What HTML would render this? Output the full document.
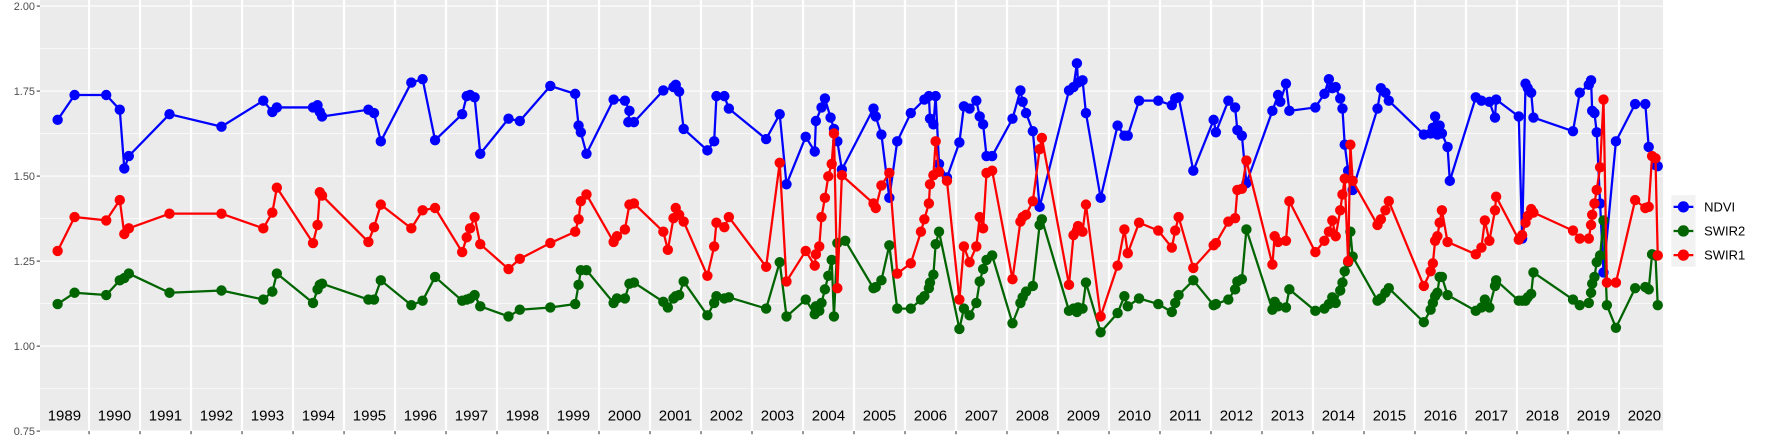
<!DOCTYPE html>
<html><head><meta charset="utf-8"><style>
html,body{margin:0;padding:0;background:#fff}
svg{display:block}
text{font-family:"Liberation Sans",sans-serif}
</style></head><body>
<svg id="s" width="1773" height="442" viewBox="0 0 1569 391" xmlns="http://www.w3.org/2000/svg">
<rect x="35.4" y="0" width="1436.3" height="381.4" fill="#ebebeb"/>
<g id="grid"></g>
<g id="data"></g>
<g id="axes" fill="#4d4d4d" font-size="9.7"></g>
<rect x="1479" y="172.6" width="21.5" height="63.4" fill="#f2f2f2"/>
<g stroke-width="2">
<line x1="1481" y1="183" x2="1498.5" y2="183" stroke="#0000ff"/><circle cx="1489.7" cy="183" r="5" fill="#0000ff"/>
<line x1="1481" y1="204.3" x2="1498.5" y2="204.3" stroke="#006400"/><circle cx="1489.7" cy="204.3" r="5" fill="#006400"/>
<line x1="1481" y1="225.7" x2="1498.5" y2="225.7" stroke="#ff0000"/><circle cx="1489.7" cy="225.7" r="5" fill="#ff0000"/>
</g>
<g font-size="11.5" fill="#000">
<text x="1508" y="187">NDVI</text><text x="1508" y="208.3">SWIR2</text><text x="1508" y="229.7">SWIR1</text>
</g>
</svg>
<script>
var NS="http://www.w3.org/2000/svg";
function el(p,t,a,txt){var e=document.createElementNS(NS,t);for(var k in a)e.setAttribute(k,a[k]);if(txt!=null)e.textContent=txt;p.appendChild(e);return e;}
var g=document.getElementById('grid'),ax=document.getElementById('axes'),d=document.getElementById('data');
function Y(v){return 5.3+(2-v)*300.9;}
[1.875,1.625,1.375,1.125,0.875].forEach(function(v){el(g,'line',{x1:35.4,x2:1471.7,y1:Y(v),y2:Y(v),stroke:'#fff','stroke-width':0.5});});
[2,1.75,1.5,1.25,1,0.75].forEach(function(v){el(g,'line',{x1:35.4,x2:1471.7,y1:Y(v),y2:Y(v),stroke:'#fff','stroke-width':1});
 el(ax,'line',{x1:32.5,x2:35.4,y1:Y(v),y2:Y(v),stroke:'#333','stroke-width':0.9});
 el(ax,'text',{x:31,y:Y(v)+3.4,'text-anchor':'end'},v.toFixed(2));});
for(var k=0;k<31;k++){var x=78.8+45.13*k;el(g,'line',{x1:x,x2:x,y1:0,y2:381.4,stroke:'#fff','stroke-width':2});
 el(ax,'line',{x1:x,x2:x,y1:381.4,y2:384.2,stroke:'#333','stroke-width':0.9});}
for(var k=0;k<32;k++){var x=(k==0?57:78.8+45.13*(k-1)+22.5);el(g,'text',{x:x,y:372,'text-anchor':'middle','font-size':13.3,fill:'#000'},String(1989+k));}
var ND=[51,106,66,84,94,84,106,97,110,149,114,138,150,101,196,112,233,89,241,99,245,95,277,95,281,93,283,99,285,103,326,97,331,100,337,125,364,73,374,70,385,124,409,101,413,85,416,84,420,86,425,136,450,105,460,107,487,76,509,83,512,111,514,117,519,136,543,88,553,89,557,98,556,108,561,108,587,80,596,77,598,75,601,81,605,114,626,133,632,125,634,85,641,85,645,96,678,123,690,101,696,163,713,121,721,134,722,107,727,95,730,87,735,104,738,114,741,125,745,150,773,96,775,103,780,119,787,175,794,125,806,100,818,88,822,85,823,105,826,110,828,85,831,145,838,157,849,126,853,94,858,96,864,89,867,103,870,110,873,138,878,138,896,105,903,80,905,90,908,100,914,116,920,183,946,80,950,77,953,56,954,73,958,71,961,100,974,175,989,111,995,120,998,120,1008,89,1025,89,1037,93,1040,87,1043,86,1056,151,1074,106,1076,117,1087,89,1093,95,1095,115,1099,120,1103,162,1126,98,1131,84,1133,90,1138,74,1141,98,1164,95,1172,83,1176,70,1179,78,1182,77,1186,87,1188,96,1190,128,1193,151,1197,168,1219,96,1222,78,1226,82,1229,89,1260,119,1266,118,1268,113,1270,103,1272,119,1274,111,1276,118,1281,130,1283,160,1306,86,1311,89,1318,90,1323,104,1324,88,1344,103,1347,211,1350,74,1352,78,1355,82,1357,104,1392,116,1398,82,1406,75,1408,71,1409,98,1411,100,1413,117,1416,180,1419,241,1430,125,1447,92,1456,92,1459,130,1465,146,1467,147];
var S1=[51,222,66,192,94,195,106,177,110,207,114,202,150,189,196,189,233,202,241,188,245,166,277,215,281,199,283,170,285,173,326,214,331,201,337,181,364,202,374,186,385,184,409,223,413,210,416,202,420,192,425,216,450,238,460,229,487,215,509,205,512,194,514,178,519,172,543,214,546,209,553,203,557,181,561,180,587,205,591,221,596,193,598,184,601,190,605,196,626,244,632,218,634,197,641,201,645,192,678,236,690,144,696,249,713,222,721,235,722,225,725,218,727,192,730,175,733,156,736,145,738,118,741,255,745,155,773,180,775,184,780,164,787,153,794,242,806,233,815,205,818,194,822,180,823,163,826,155,828,125,831,152,838,160,849,265,853,218,858,232,864,218,867,192,870,202,873,153,878,151,896,247,903,196,905,192,908,190,914,178,920,132,922,122,946,252,950,208,953,204,954,200,958,205,961,181,974,280,989,235,995,203,998,224,1008,197,1025,204,1037,219,1040,204,1043,192,1056,237,1074,217,1076,215,1087,196,1093,193,1095,168,1099,167,1103,142,1126,234,1128,209,1131,214,1138,213,1141,178,1164,223,1172,213,1176,205,1179,195,1182,209,1186,186,1188,172,1190,158,1193,231,1195,128,1197,160,1219,199,1222,194,1226,186,1229,178,1260,253,1266,240,1268,233,1270,213,1272,209,1274,197,1276,186,1281,214,1306,225,1311,219,1314,195,1318,213,1323,186,1324,174,1344,212,1347,208,1350,197,1352,191,1355,185,1357,188,1392,204,1398,211,1406,211,1408,199,1409,190,1411,180,1413,168,1416,148,1419,88,1422,250,1430,250,1447,177,1456,184,1459,183,1462,138,1465,140,1467,226];
var S2=[51,269,66,259,94,261,106,248,110,246,114,242,150,259,196,257,233,265,241,258,245,242,277,268,281,256,283,252,285,251,326,265,331,265,337,248,364,270,374,266,385,245,409,266,413,265,416,264,420,261,425,271,450,280,460,274,487,272,509,269,512,252,514,239,519,239,543,268,546,264,553,264,557,251,561,250,587,267,591,272,596,264,598,262,601,261,605,249,626,279,632,268,634,262,641,264,645,263,678,273,690,232,696,280,713,265,721,278,722,271,725,275,727,268,730,256,733,244,736,230,738,280,741,215,748,213,773,255,775,254,780,248,787,217,794,273,806,273,815,265,818,262,822,255,823,250,826,243,828,216,831,205,849,291,853,273,858,279,864,268,867,249,870,238,873,230,878,226,896,286,903,268,905,263,908,258,914,253,920,199,922,194,946,275,950,273,953,276,954,272,958,273,961,250,974,294,989,277,995,262,998,271,1008,264,1025,269,1037,276,1040,268,1043,261,1056,248,1074,270,1076,269,1087,265,1093,256,1095,249,1099,247,1103,203,1126,274,1128,267,1131,271,1138,272,1141,256,1164,275,1172,273,1176,269,1179,263,1182,268,1186,257,1188,250,1190,240,1193,232,1195,205,1197,227,1219,266,1222,264,1226,259,1229,255,1260,285,1266,274,1268,268,1270,262,1272,259,1274,245,1276,245,1281,261,1306,275,1311,272,1314,265,1318,272,1323,253,1324,248,1344,266,1347,266,1350,266,1352,263,1355,260,1357,241,1392,265,1398,270,1406,268,1408,259,1409,251,1411,245,1413,232,1416,226,1419,195,1422,270,1430,290,1447,255,1456,254,1459,256,1462,225,1465,226,1467,270];
[[ND,'#0000ff'],[S2,'#006400'],[S1,'#ff0000']].forEach(function(s){
 var a=s[0],c=s[1],pts=[];for(var i=0;i<a.length;i+=2)pts.push(a[i]+','+a[i+1]);
 el(d,'polyline',{points:pts.join(' '),fill:'none',stroke:c,'stroke-width':2,'stroke-linejoin':'round'});
 for(var i=0;i<a.length;i+=2)el(d,'circle',{cx:a[i],cy:a[i+1],r:4.6,fill:c});
});
</script>
</body></html>
